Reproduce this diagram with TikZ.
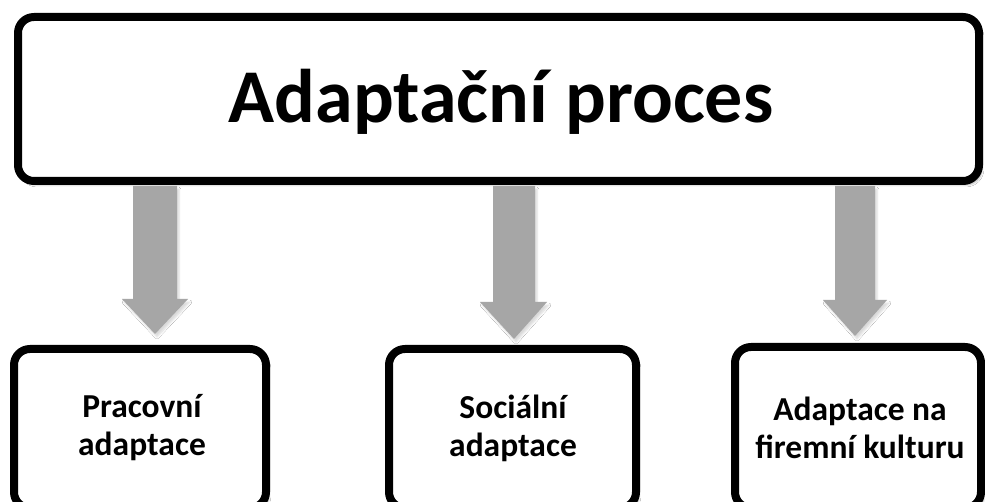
\documentclass[tikz,border=0pt]{standalone}
\usepackage{fontspec}
\setmainfont{Carlito}
\usetikzlibrary{shadows.blur}
\begin{document}
\begin{tikzpicture}[x=1pt,y=-1pt,
  box/.style={draw=black,line width=8pt,fill=white,rounded corners=16pt,
    blur shadow={shadow xshift=3pt,shadow yshift=-4pt,shadow opacity=30,shadow blur steps=6}},
  blockarrow/.style={fill=black!35,draw=none,
    blur shadow={shadow xshift=2pt,shadow yshift=-3pt,shadow opacity=15,shadow blur steps=5}},
  bigtext/.style={font=\bfseries\fontsize{76}{80}\selectfont},
  smalltext/.style={font=\bfseries\fontsize{33.5}{38}\selectfont,align=center}]
\useasboundingbox (0,0) rectangle (985,502);
\fill[white] (0,0) rectangle (985,502);
% top box
\draw[box] (18,17) rectangle (979,181);
\node[bigtext] (title) at (501,102) {Adaptační proces};
% arrows
\fill[blockarrow] (133,186) -- (177,186) -- (177,299) -- (188,299) -- (155,334) -- (122,299) -- (133,299) -- cycle;
\fill[blockarrow] (493,186) -- (535,186) -- (535,302) -- (547,302) -- (514,339) -- (480,302) -- (493,302) -- cycle;
\fill[blockarrow] (835,186) -- (875,186) -- (875,300) -- (887,300) -- (855,336) -- (823,300) -- (835,300) -- cycle;
% bottom boxes
\draw[box] (14,349) rectangle (266,508);
\draw[box] (389,349) rectangle (636,508);
\draw[box] (735,347) rectangle (981,508);
\node[smalltext] (b1) at (142,428) {Pracovní\\adaptace};
\node[smalltext] (b2) at (513,428) {Sociální\\adaptace};
\node[smalltext] (b3) at (860,428) {Adaptace na\\firemní kulturu};
\end{tikzpicture}
\end{document}
